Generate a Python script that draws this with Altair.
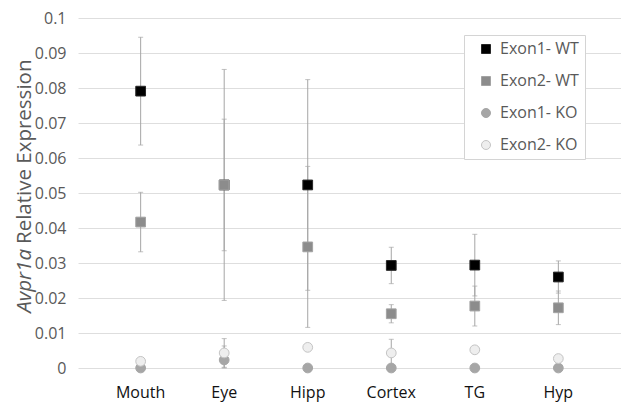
import altair as alt
import pandas as pd

categories = ["Mouth", "Eye", "Hipp", "Cortex", "TG", "Hyp"]
series_names = ["Exon1- WT", "Exon2- WT", "Exon1- KO", "Exon2- KO"]

exon1_wt = [0.0791, 0.0523, 0.0523, 0.0293, 0.0294, 0.0260]
exon1_wt_err = [0.0154, 0.0330, 0.0301, 0.0052, 0.0088, 0.0046]
exon2_wt = [0.0417, 0.0523, 0.0346, 0.0155, 0.0177, 0.0172]
exon2_wt_err = [0.0085, 0.0188, 0.0230, 0.0026, 0.0057, 0.0048]
exon1_ko = [0.0, 0.0023, 0.0, 0.0, 0.0, 0.0]
exon1_ko_err = [0.0, 0.0040, 0.0, 0.0, 0.0, 0.0]
exon2_ko = [0.0019, 0.0043, 0.0059, 0.0043, 0.0052, 0.0027]
exon2_ko_err = [0.0, 0.0041, 0.0, 0.0039, 0.0, 0.0]

y_ticks = [0, 0.01, 0.02, 0.03, 0.04, 0.05, 0.06, 0.07, 0.08, 0.09, 0.1]

fills = ["#000000", "#8c8c8c", "#a6a6a6", "#eeeeee"]
strokes = ["#262626", "#a3a3a3", "#a6a6a6", "#c4c4c4"]
shapes = ["square", "square", "circle", "circle"]

rows = []
for s, vals, errs in zip(series_names,
                         [exon1_wt, exon2_wt, exon1_ko, exon2_ko],
                         [exon1_wt_err, exon2_wt_err, exon1_ko_err, exon2_ko_err]):
    for c, v, e in zip(categories, vals, errs):
        rows.append(dict(cat=c, series=s, value=v, err=e,
                         lo=max(0.0, v - e), hi=v + e))
df = pd.DataFrame(rows)
df_err = df[df.err > 0].reset_index(drop=True)

FONT = "Open Sans"

x_enc = alt.X("cat:N", sort=categories, scale=alt.Scale(padding=0.5),
              axis=alt.Axis(title=None, labelAngle=0, domain=False, ticks=False,
                            grid=False, labelFont=FONT, labelFontSize=16,
                            labelColor="#111111", labelPadding=16))
y_scale = alt.Scale(domain=[0, 0.1], nice=False)
y_axis = alt.Axis(title=None, values=y_ticks, format="~g", domain=False, ticks=False,
                  grid=True, gridColor="#dedede", gridWidth=1, labelFont=FONT,
                  labelFontSize=16, labelColor="#595959", labelPadding=12,
                  labelOverlap=False)

rules = alt.Chart(df_err).mark_rule(color="#a6a6a6", strokeWidth=1).encode(
    x=x_enc, y=alt.Y("lo:Q", scale=y_scale, axis=y_axis), y2="hi:Q")
caps_lo = alt.Chart(df_err).mark_tick(color="#a6a6a6", size=5, thickness=1).encode(
    x=x_enc, y=alt.Y("lo:Q", scale=y_scale, axis=y_axis))
caps_hi = alt.Chart(df_err).mark_tick(color="#a6a6a6", size=5, thickness=1).encode(
    x=x_enc, y=alt.Y("hi:Q", scale=y_scale, axis=y_axis))

leg = alt.Legend(title=None, orient="none", legendX=386, legendY=17)
points = alt.Chart(df).mark_point(filled=True, size=95, strokeWidth=1, opacity=1).encode(
    x=x_enc,
    y=alt.Y("value:Q", scale=y_scale, axis=y_axis),
    fill=alt.Fill("series:N", scale=alt.Scale(domain=series_names, range=fills), legend=leg),
    stroke=alt.Stroke("series:N", scale=alt.Scale(domain=series_names, range=strokes), legend=leg),
    shape=alt.Shape("series:N", scale=alt.Scale(domain=series_names, range=shapes), legend=leg),
)

title_a = alt.Chart(pd.DataFrame({"t": ["Avpr1a"]})).mark_text(
    angle=270, align="right", baseline="middle", fontStyle="italic",
    fontSize=20.5, font=FONT, color="#595959").encode(
    x=alt.value(-53), y=alt.value(231), text="t:N")
title_b = alt.Chart(pd.DataFrame({"t": ["Relative Expression"]})).mark_text(
    angle=270, align="left", baseline="middle",
    fontSize=20.5, font=FONT, color="#595959").encode(
    x=alt.value(-53), y=alt.value(226), text="t:N")

chart = alt.layer(rules, caps_lo, caps_hi, points, title_a, title_b).properties(
    width=543, height=350,
    autosize=alt.AutoSizeParams(type="none"),
    padding={"left": 70, "top": 10, "right": 0, "bottom": 40},
    background="white",
).configure_view(stroke=None).configure_legend(
    padding=6, rowPadding=16, labelFontSize=16, labelFont=FONT, labelColor="#595959",
    strokeColor="#d4d4d4", fillColor="white", symbolSize=81, symbolOffset=8,
    labelOffset=6, symbolStrokeWidth=1, cornerRadius=0,
)

chart.save("out.html", embed_options={"renderer": "svg", "actions": False})
